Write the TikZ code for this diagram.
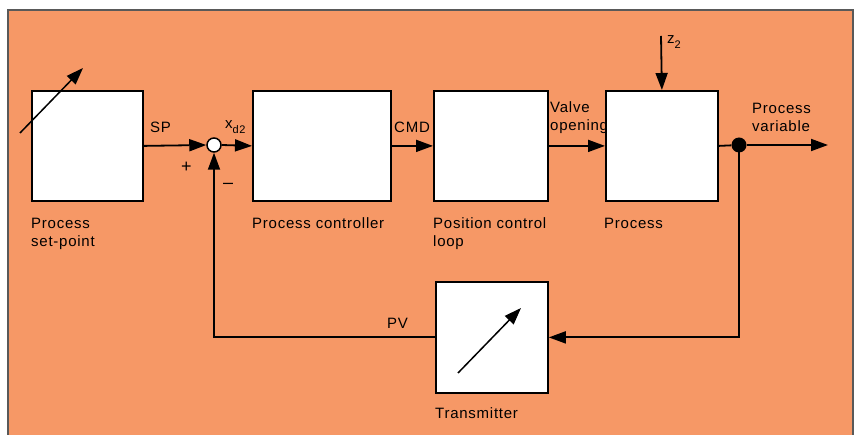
\documentclass[tikz,border=0pt]{standalone}
\usepackage{fontspec}
\setmainfont{Liberation Sans}[LetterSpace=5]
\usetikzlibrary{arrows.meta}
\definecolor{bg}{RGB}{246,152,102}
\begin{document}
\begin{tikzpicture}[x=1pt,y=-1pt,
  blk/.style={draw=black,fill=white,line width=1.8pt,anchor=north west,inner sep=0pt},
  lbl/.style={anchor=base west,inner sep=0pt,font=\fontsize{15}{18}\selectfont,align=left},
  sig/.style={line width=1.8pt,-{Triangle[length=17pt,width=12pt]}},
  wire/.style={line width=1.8pt}]
\useasboundingbox (0,0) rectangle (859,435);
\fill[white] (0,0) rectangle (859,435);
\filldraw[fill=bg,draw=gray!70!black,line width=1.2pt] (8,10) rectangle (853,440);

% blocks
\node[blk,minimum width=111pt,minimum height=110pt] (sp)   at (31,90) {};
\node[blk,minimum width=138pt,minimum height=110pt] (ctl)  at (252,90) {};
\node[blk,minimum width=114pt,minimum height=110pt] (pos)  at (433,90) {};
\node[blk,minimum width=112pt,minimum height=110pt] (proc) at (605,90) {};
\node[blk,minimum width=112pt,minimum height=111pt] (tx)   at (435,281) {};

\node[circle,draw=black,fill=white,line width=1.5pt,minimum size=14pt,inner sep=0pt] (sum) at (214,145) {};
\node[circle,fill=black,minimum size=15pt,inner sep=0pt] (dot) at (739,145) {};
\coordinate (out) at (828,145);
\coordinate (z) at (661,36);

% connectors
\draw[sig] (sp.east) -- (sum.west);
\draw[sig] (sum.east) -- (ctl.west);
\draw[sig] (ctl.east) -- (pos.west);
\draw[sig] (pos.east) -- (proc.west);
\draw[wire] (proc.east) -- (dot);
\draw[sig] (dot) -- (out);
\draw[sig] (z) -- (proc.north);
\draw[sig] (dot.center) |- (tx.east);
\draw[sig] (tx.west) -| (sum.south);

% adjustable arrows
\coordinate (a1) at (20,133); \coordinate (a2) at (83,68);
\draw[sig,line width=1.5pt] (a1) -- (a2);
\coordinate (b1) at (458,373); \coordinate (b2) at (521,308);
\draw[sig,line width=1.5pt] (b1) -- (b2);

% labels
\node[lbl] (tsp) at (150,133) {SP};
\node[lbl] (txd) at (225,129) {x\raisebox{-5pt}{\fontsize{11}{11}\selectfont d2}};
\node[lbl] (tcmd) at (394,133) {CMD};
\node[lbl] (tvo) at (550,131) {Valve\\opening};
\node[lbl] (tpv) at (752,132) {Process\\variable};
\node[lbl] (tz) at (667,44) {z\raisebox{-5pt}{\fontsize{11}{11}\selectfont 2}};
\node[lbl,font=\fontsize{18}{18}\selectfont] (tplus) at (181,173) {+};
\node[lbl,font=\fontsize{18}{18}\selectfont] (tminus) at (223,189) {–};
\node[lbl] (tPV) at (387,329) {PV};

\node[lbl] (lsp) at (31,247) {Process\\set-point};
\node[lbl] (lctl) at (252,229) {Process controller};
\node[lbl] (lpos) at (433,247) {Position control\\loop};
\node[lbl] (lproc) at (604,229) {Process};
\node[lbl] (ltx) at (435,418) {Transmitter};
\end{tikzpicture}
\end{document}
